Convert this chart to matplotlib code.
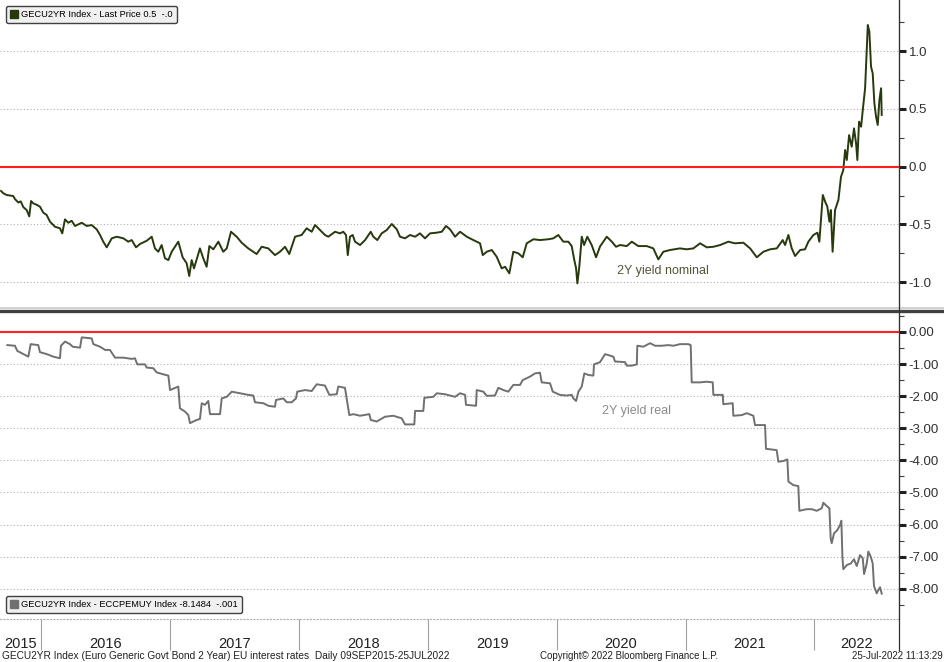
import matplotlib
matplotlib.use("Agg")
import matplotlib.pyplot as plt
from matplotlib.lines import Line2D
from matplotlib.patches import Patch
from matplotlib.ticker import MultipleLocator, FixedLocator

# nominal 2Y yield (decimal year, %)
nom_t = [2015.690, 2015.708, 2015.734, 2015.785, 2015.798, 2015.824, 2015.843, 2015.863,
         2015.889, 2015.909, 2015.923, 2015.940, 2015.967, 2015.992, 2016.018, 2016.044,
         2016.070, 2016.109, 2016.147, 2016.165, 2016.186, 2016.212, 2016.238, 2016.264,
         2016.316, 2016.355, 2016.393, 2016.432, 2016.458, 2016.483, 2016.510, 2016.549,
         2016.587, 2016.639, 2016.677, 2016.704, 2016.737, 2016.768, 2016.820, 2016.859,
         2016.884, 2016.910, 2016.936, 2016.962, 2016.988, 2017.014, 2017.065, 2017.099,
         2017.130, 2017.150, 2017.169, 2017.187, 2017.233, 2017.259, 2017.285, 2017.306,
         2017.337, 2017.376, 2017.414, 2017.441, 2017.474, 2017.518, 2017.557, 2017.608,
         2017.673, 2017.712, 2017.763, 2017.815, 2017.854, 2017.893, 2017.926, 2017.971,
         2018.022, 2018.061, 2018.100, 2018.126, 2018.165, 2018.203, 2018.229, 2018.281,
         2018.320, 2018.345, 2018.366, 2018.380, 2018.397, 2018.418, 2018.436, 2018.475,
         2018.514, 2018.558, 2018.578, 2018.609, 2018.643, 2018.682, 2018.721, 2018.760,
         2018.785, 2018.824, 2018.863, 2018.902, 2018.940, 2018.979, 2019.018, 2019.070,
         2019.109, 2019.142, 2019.173, 2019.212, 2019.251, 2019.303, 2019.354, 2019.406,
         2019.427, 2019.458, 2019.497, 2019.535, 2019.574, 2019.600, 2019.633, 2019.664,
         2019.703, 2019.737, 2019.768, 2019.820, 2019.871, 2019.936, 2019.975, 2020.013,
         2020.052, 2020.091, 2020.117, 2020.137, 2020.151, 2020.161, 2020.176, 2020.195,
         2020.213, 2020.238, 2020.272, 2020.306, 2020.337, 2020.389, 2020.428, 2020.461,
         2020.492, 2020.544, 2020.583, 2020.634, 2020.699, 2020.750, 2020.789, 2020.828,
         2020.880, 2020.957, 2021.009, 2021.061, 2021.113, 2021.165, 2021.216, 2021.268,
         2021.332, 2021.384, 2021.449, 2021.501, 2021.553, 2021.604, 2021.656, 2021.708,
         2021.754, 2021.772, 2021.798, 2021.824, 2021.850, 2021.889, 2021.927, 2021.953,
         2021.992, 2022.023, 2022.038, 2022.065, 2022.083, 2022.100, 2022.116, 2022.127,
         2022.141, 2022.160, 2022.186, 2022.206, 2022.224, 2022.238, 2022.251, 2022.269,
         2022.289, 2022.307, 2022.323, 2022.333, 2022.346, 2022.362, 2022.375, 2022.393,
         2022.406, 2022.414, 2022.426, 2022.439, 2022.452, 2022.465, 2022.478, 2022.491,
         2022.504, 2022.517, 2022.522]
nom_v = [-0.21, -0.23, -0.245, -0.254, -0.28, -0.31, -0.30, -0.35,
         -0.375, -0.43, -0.297, -0.317, -0.33, -0.346, -0.398, -0.418,
         -0.476, -0.52, -0.533, -0.577, -0.456, -0.485, -0.468, -0.513,
         -0.485, -0.513, -0.505, -0.542, -0.591, -0.649, -0.698, -0.62,
         -0.606, -0.62, -0.649, -0.635, -0.698, -0.669, -0.641, -0.606,
         -0.707, -0.736, -0.678, -0.793, -0.808, -0.736, -0.649, -0.784,
         -0.836, -0.946, -0.808, -0.88, -0.707, -0.793, -0.866, -0.687,
         -0.715, -0.649, -0.736, -0.707, -0.563, -0.606, -0.658, -0.707,
         -0.756, -0.693, -0.707, -0.765, -0.736, -0.693, -0.756, -0.606,
         -0.591, -0.533, -0.563, -0.505, -0.548, -0.591, -0.606, -0.563,
         -0.577, -0.563, -0.591, -0.765, -0.606, -0.591, -0.649, -0.678,
         -0.635, -0.563, -0.606, -0.635, -0.577, -0.548, -0.496, -0.542,
         -0.606, -0.62, -0.591, -0.606, -0.577, -0.62, -0.577, -0.571,
         -0.563, -0.513, -0.542, -0.606, -0.563, -0.606, -0.635, -0.663,
         -0.765, -0.736, -0.721, -0.779, -0.88, -0.866, -0.923, -0.736,
         -0.75, -0.784, -0.663, -0.628, -0.635, -0.628, -0.62, -0.591,
         -0.649, -0.649, -0.687, -0.808, -0.88, -1.01, -0.866, -0.606,
         -0.678, -0.606, -0.678, -0.784, -0.69, -0.606, -0.649, -0.693,
         -0.678, -0.687, -0.649, -0.687, -0.687, -0.707, -0.802, -0.736,
         -0.721, -0.707, -0.715, -0.707, -0.663, -0.698, -0.693, -0.678,
         -0.649, -0.663, -0.658, -0.707, -0.784, -0.736, -0.715, -0.707,
         -0.635, -0.678, -0.591, -0.707, -0.773, -0.721, -0.715, -0.649,
         -0.591, -0.571, -0.649, -0.245, -0.303, -0.346, -0.476, -0.375,
         -0.736, -0.375, -0.288, -0.087, -0.029, 0.145, 0.058, 0.274,
         0.173, 0.332, 0.202, 0.058, 0.39, 0.346, 0.49, 0.679,
         1.01, 1.227, 1.169, 0.866, 0.808, 0.549, 0.433, 0.361,
         0.577, 0.679, 0.448]

# real 2Y yield = nominal minus euro area inflation (decimal year, %)
real_t = [2015.739, 2015.798, 2015.816, 2015.850, 2015.902, 2015.920, 2015.979, 2015.992,
          2016.044, 2016.096, 2016.147, 2016.155, 2016.186, 2016.225, 2016.246, 2016.303,
          2016.316, 2016.393, 2016.406, 2016.458, 2016.497, 2016.535, 2016.574, 2016.639,
          2016.704, 2016.729, 2016.747, 2016.807, 2016.820, 2016.871, 2016.898, 2016.949,
          2016.988, 2017.001, 2017.065, 2017.078, 2017.117, 2017.143, 2017.156, 2017.208,
          2017.233, 2017.247, 2017.272, 2017.298, 2017.311, 2017.389, 2017.402, 2017.441,
          2017.480, 2017.544, 2017.608, 2017.647, 2017.660, 2017.725, 2017.764, 2017.815,
          2017.823, 2017.880, 2017.906, 2017.945, 2017.978, 2017.988, 2018.048, 2018.100,
          2018.139, 2018.203, 2018.237, 2018.294, 2018.306, 2018.358, 2018.392, 2018.423,
          2018.475, 2018.547, 2018.558, 2018.604, 2018.669, 2018.733, 2018.798, 2018.824,
          2018.896, 2018.902, 2018.966, 2018.974, 2019.044, 2019.070, 2019.134, 2019.173,
          2019.212, 2019.251, 2019.290, 2019.297, 2019.375, 2019.380, 2019.432, 2019.458,
          2019.522, 2019.548, 2019.587, 2019.625, 2019.664, 2019.716, 2019.737, 2019.794,
          2019.833, 2019.871, 2019.884, 2019.949, 2019.970, 2020.026, 2020.078, 2020.117,
          2020.130, 2020.151, 2020.169, 2020.195, 2020.215, 2020.246, 2020.285, 2020.290,
          2020.337, 2020.376, 2020.415, 2020.440, 2020.453, 2020.531, 2020.544, 2020.583,
          2020.622, 2020.626, 2020.673, 2020.725, 2020.764, 2020.815, 2020.867, 2020.906,
          2020.957, 2021.022, 2021.040, 2021.048, 2021.113, 2021.165, 2021.211, 2021.216,
          2021.289, 2021.293, 2021.366, 2021.371, 2021.436, 2021.475, 2021.526, 2021.539,
          2021.617, 2021.624, 2021.707, 2021.720, 2021.759, 2021.790, 2021.798, 2021.836,
          2021.875, 2021.883, 2021.940, 2021.979, 2022.018, 2022.057, 2022.069, 2022.095,
          2022.116, 2022.126, 2022.134, 2022.152, 2022.178, 2022.199, 2022.209, 2022.217,
          2022.224, 2022.251, 2022.282, 2022.307, 2022.328, 2022.354, 2022.375, 2022.385,
          2022.406, 2022.418, 2022.437, 2022.452, 2022.462, 2022.483, 2022.496, 2022.509,
          2022.522]
real_v = [-0.41, -0.43, -0.59, -0.66, -0.77, -0.38, -0.41, -0.63,
          -0.69, -0.77, -0.82, -0.43, -0.30, -0.38, -0.46, -0.49,
          -0.17, -0.20, -0.38, -0.46, -0.56, -0.56, -0.80, -0.80,
          -0.84, -0.82, -1.01, -1.01, -1.11, -1.13, -1.26, -1.32,
          -1.36, -1.81, -1.70, -2.38, -2.48, -2.59, -2.84, -2.74,
          -2.71, -2.22, -2.27, -2.15, -2.56, -2.56, -2.07, -2.02,
          -1.86, -1.91, -1.96, -1.98, -2.19, -2.22, -2.30, -2.33,
          -2.12, -2.07, -2.19, -2.19, -2.07, -1.86, -1.81, -1.84,
          -1.63, -1.67, -1.96, -1.94, -1.70, -1.74, -2.59, -2.56,
          -2.61, -2.56, -2.74, -2.79, -2.64, -2.61, -2.69, -2.88,
          -2.88, -2.46, -2.46, -2.05, -2.02, -1.91, -1.94, -1.98,
          -2.02, -1.91, -1.96, -2.27, -2.30, -1.81, -1.86, -1.99,
          -1.98, -1.74, -1.81, -1.86, -1.65, -1.65, -1.50, -1.39,
          -1.29, -1.27, -1.57, -1.60, -1.86, -1.96, -1.98, -1.96,
          -2.07, -2.15, -1.86, -1.70, -1.29, -1.34, -1.36, -1.01,
          -0.94, -0.69, -0.74, -0.77, -0.92, -0.94, -1.05, -1.05,
          -1.01, -0.43, -0.46, -0.35, -0.43, -0.43, -0.41, -0.43,
          -0.38, -0.38, -0.41, -1.57, -1.57, -1.55, -1.57, -1.96,
          -1.96, -2.25, -2.22, -2.61, -2.59, -2.53, -2.61, -2.90,
          -2.90, -3.64, -3.68, -4.04, -4.02, -3.97, -4.66, -4.77,
          -4.80, -5.57, -5.52, -5.52, -5.57, -5.49, -5.32, -5.42,
          -5.49, -6.43, -6.58, -6.27, -6.17, -6.01, -5.88, -7.00,
          -7.39, -7.26, -7.21, -7.08, -7.29, -6.95, -7.05, -7.54,
          -7.21, -6.84, -7.00, -7.21, -7.91, -8.14, -8.04, -7.95,
          -8.15]

years = [2015, 2016, 2017, 2018, 2019, 2020, 2021, 2022]
top_ticks = [1.0, 0.5, 0.0, -0.5, -1.0]
bot_ticks = [0, -1, -2, -3, -4, -5, -6, -7, -8]

W, H = 945, 662
x0, x1 = 2015.682, 2022.656
narrow = ['Liberation Sans Narrow', 'Liberation Sans', 'DejaVu Sans']
nom_color = '#27390d'
real_color = '#707070'
red = '#ff2020'

fig = plt.figure(figsize=(W / 100, H / 100), dpi=100)
ax1 = fig.add_axes([0, 1 - 308 / H, 899 / W, 308 / H])
ax2 = fig.add_axes([0, 1 - 619 / H, 899 / W, (619 - 313) / H])

ax1.plot(nom_t, nom_v, color=nom_color, lw=1.4)
ax1.axhline(0, color=red, lw=1.5, zorder=3)
ax1.set_ylim(-1.223, 1.443)
ax1.yaxis.set_major_locator(FixedLocator(top_ticks))
ax1.yaxis.set_minor_locator(MultipleLocator(0.25))
ax1.set_yticklabels(['%.1f' % v for v in top_ticks])
for v in top_ticks:
    if v != 0:
        ax1.axhline(v, color='#b0b0b0', lw=0.8, ls=(0, (1, 2)), zorder=0)

ax2.plot(real_t, real_v, color=real_color, lw=1.4)
ax2.axhline(0, color=red, lw=1.5, zorder=3)
ax2.set_ylim(-8.94, 0.59)
ax2.yaxis.set_major_locator(FixedLocator(bot_ticks))
ax2.yaxis.set_minor_locator(MultipleLocator(0.5))
ax2.set_yticklabels(['%.2f' % v for v in bot_ticks])
for v in bot_ticks:
    if v != 0:
        ax2.axhline(v, color='#b0b0b0', lw=0.8, ls=(0, (1, 2)), zorder=0)

for ax in (ax1, ax2):
    ax.set_xlim(x0, x1)
    ax.yaxis.tick_right()
    ax.spines['left'].set_visible(False)
    ax.spines['top'].set_visible(False)
    ax.spines['right'].set_color('#303030')
    ax.tick_params(axis='y', which='major', direction='out', length=5, width=2.2,
                   color='#202020', labelsize=9.5, labelcolor='#303030', pad=2)
    ax.tick_params(axis='y', which='minor', direction='out', length=3.5, width=0.8,
                   color='#404040')
    for lab in ax.get_yticklabels():
        lab.set_family(narrow)

ax1.spines['bottom'].set_visible(False)
ax1.set_xticks([])
ax2.spines['bottom'].set_color('#b0b0b0')
ax2.spines['bottom'].set_linestyle((0, (1, 2)))

# year band under the lower panel
ax2.set_xticks(years[1:])
ax2.set_xticklabels([])
ax2.tick_params(axis='x', which='major', direction='out', length=22, width=0.8,
                color='#a0a0a0')
mids = []
for y in years:
    a, b = max(y, x0), min(y + 1, x1)
    mids.append((a + b) / 2)
ax2.set_xticks(mids, minor=True)
ax2.set_xticklabels([str(y) for y in years], minor=True)
ax2.tick_params(axis='x', which='minor', length=0, pad=13, labelsize=10.5,
                labelcolor='#202020')
for lab in ax2.get_xticklabels(minor=True):
    lab.set_family(narrow)

# panel annotations
fig.text(617 / W, 1 - 271 / H, '2Y yield nominal', fontsize=9,
         color='#55553a', family=narrow, va='center')
fig.text(602 / W, 1 - 411 / H, '2Y yield real', fontsize=9,
         color='#8c8c8c', family=narrow, va='center')

# legends
leg_kw = dict(fancybox=True, framealpha=1, facecolor='#f0f0f0', edgecolor='#404040',
              handlelength=0.8, handleheight=1.0, handletextpad=0.4,
              borderpad=0.4, prop={'family': narrow, 'size': 6.7})
ax1.legend(handles=[Patch(facecolor=nom_color, edgecolor=nom_color,
                          label='GECU2YR Index - Last Price 0.5  -.0')],
           loc='upper left', bbox_to_anchor=(0.002, 0.995), **leg_kw)
ax2.legend(handles=[Patch(facecolor=real_color, edgecolor=real_color,
                          label='GECU2YR Index - ECCPEMUY Index -8.1484  -.001')],
           loc='lower left', bbox_to_anchor=(0.002, 0.005), **leg_kw)

# panel separator and full-height right spine
fig.add_artist(Line2D([0, 1], [1 - 308.5 / H] * 2, color='#c8c8c8', lw=1.2))
fig.add_artist(Line2D([0, 1], [1 - 311 / H] * 2, color='#404040', lw=2.4))
fig.add_artist(Line2D([899 / W] * 2, [1, 1 - 650 / H], color='#303030', lw=0.9))

# footer
fig.text(2 / W, 1 - 656 / H, 'GECU2YR Index (Euro Generic Govt Bond 2 Year) EU interest rates  '
         'Daily 09SEP2015-25JUL2022', fontsize=7.3, family=narrow, color='#202020', va='center')
fig.text(540 / W, 1 - 656 / H, 'Copyright\u00a9 2022 Bloomberg Finance L.P.', fontsize=7,
         family=narrow, color='#202020', va='center')
fig.text(943 / W, 1 - 656 / H, '25-Jul-2022 11:13:29', fontsize=7, family=narrow,
         color='#202020', va='center', ha='right')

fig.savefig('out.png', dpi=100)
